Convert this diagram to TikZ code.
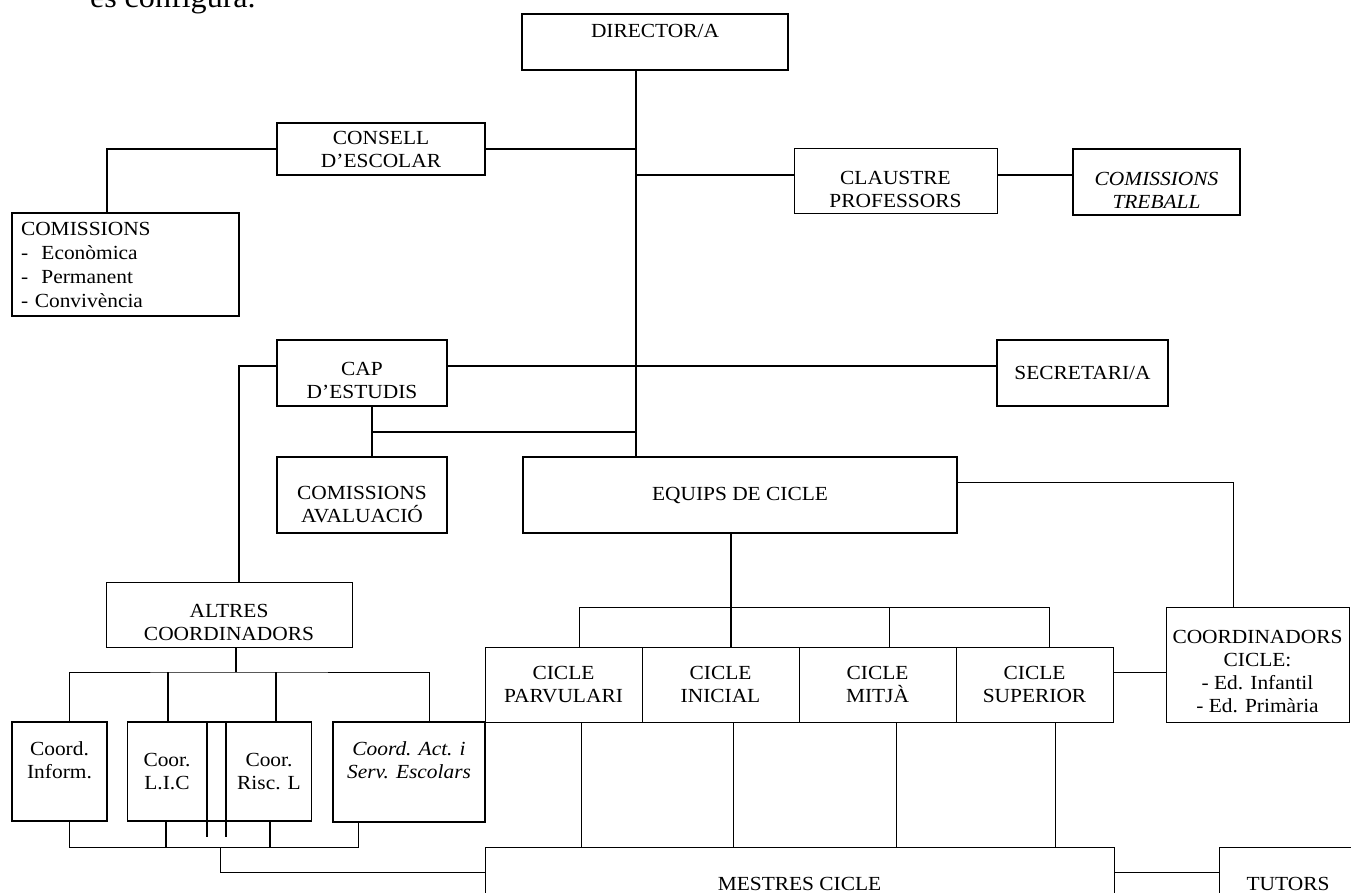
\documentclass[tikz,border=0pt]{standalone}
\usepackage{fontspec}
\setmainfont[FakeStretch=1.07]{Liberation Serif}
\usepackage{tikz}
\usetikzlibrary{positioning, calc}

\begin{document}
\begin{tikzpicture}[x=1pt, y=-1pt, every node/.style={font=\fontsize{20}{23}\selectfont, inner sep=2pt, outer sep=0pt}, box/.style={draw, line width=2pt, align=center}, thinbox/.style={draw, line width=1pt, align=center}, emptynode/.style={draw=none, fill=none, align=center}, link/.style={line width=2pt}, thinlink/.style={line width=1pt}]

    \useasboundingbox (0,0) rectangle (1351,893);

    %Nodes
    \node[emptynode, anchor=base west, font=\fontsize{30}{34}\selectfont](intro) at (88,8) {es configura.};
    \node[box, minimum width=266, minimum height=56](director) at (655,42) {DIRECTOR/A\\\mbox{}};
    \node[box, minimum width=208, minimum height=52](consell) at (381,149) {CONSELL\\D’ESCOLAR};
    \node[box, minimum height=99, text width=209, inner sep=9pt, align=left, font=\fontsize{20}{24}\selectfont](comiss) at (125.5,264.5) {COMISSIONS\\-\ \ Econòmica\\-\ \ Permanent\\- Convivència};
    \node[thinbox, minimum width=203, minimum height=65, label={[emptynode, yshift=-7.5pt]center:CLAUSTRE\\PROFESSORS}](claustre) at (895.5,181.5) {};
    \node[box, minimum width=167, minimum height=66, label={[emptynode, font=\fontsize{20}{23}\selectfont\itshape, yshift=-8pt]center:COMISSIONS\\TREBALL}](treball) at (1156.5,182) {};
    \node[box, minimum width=170, minimum height=66, label={[emptynode, yshift=-7pt]center:CAP\\D’ESTUDIS}](cap) at (362,373) {};
    \node[box, minimum width=171, minimum height=66](secretari) at (1082.5,373) {SECRETARI/A};
    \node[box, minimum width=170, minimum height=76, label={[emptynode, yshift=-10pt]center:COMISSIONS\\AVALUACIÓ}](avaluacio) at (362,495) {};
    \node[box, minimum width=434, minimum height=76](equips) at (740,495) {EQUIPS DE CICLE};
    \node[thinbox, minimum width=246, minimum height=65, label={[emptynode, yshift=-8pt]center:ALTRES\\COORDINADORS}](altres) at (229,614.5) {};
    \node[thinbox, line width=1.5pt, minimum width=95, minimum height=99](inform) at (59.5,771.5) {Coord.\\Inform.\\\mbox{}};
    \node[thinbox, line width=1.5pt, minimum width=184, minimum height=99](licrisc) at (219.5,771.5) {};
    \node[emptynode](lic) at (167,772) {Coor.\\L.I.C};
    \node[emptynode](risc) at (269,772) {Coor.\\Risc. L};
    \node[box, minimum width=152, minimum height=100, font=\fontsize{20}{23}\selectfont\itshape](act) at (409,772) {Coord. Act. i\\Serv. Escolars\\\mbox{}};
    \node[thinbox, minimum width=157, minimum height=75](parv) at (563.5,684.5) {CICLE\\PARVULARI};
    \node[thinbox, minimum width=157, minimum height=75](inic)[right=0pt of parv] {CICLE\\INICIAL};
    \node[thinbox, minimum width=157, minimum height=75](mitja)[right=0pt of inic] {CICLE\\MITJÀ};
    \node[thinbox, minimum width=157, minimum height=75](sup)[right=0pt of mitja] {CICLE\\SUPERIOR};
    \node[thinbox, minimum width=183, minimum height=115, label={[emptynode, yshift=-7pt]center:COORDINADORS\\CICLE:\\- Ed. Infantil\\- Ed. Primària}](coordcicle) at (1257.5,664.5) {};
    \node[thinbox, minimum width=629, minimum height=74](mestres) at (799.5,884) {MESTRES CICLE};
    \node[thinbox, minimum width=138, minimum height=74](tutors)[right=105pt of mestres] {TUTORS};
    \coordinate (trunk) at (636,0);
    \coordinate (capjoin) at ($(cap.south)!0.5!(avaluacio.north)$);
    \coordinate[below=25pt of altres.south] (altresbus);

    %Lines
    \draw[link] (trunk |- director.south) -- (trunk |- equips.north);
    \draw[link] (trunk |- director.south) |- ([yshift=6.5pt]claustre.west);
    \draw[link] ([yshift=6.5pt]claustre.east) -- ([yshift=7pt]treball.west);
    \draw[link] (consell.east) -- (trunk |- consell.east);
    \draw[link] (consell.west) -| ([xshift=-18.5pt]comiss.north);
    \draw[link] ([yshift=7pt]cap.east) -- ([yshift=7pt]secretari.west);
    \draw[link] ([yshift=7pt]cap.west) -| ([xshift=10pt]altres.north);
    \draw[link] ([xshift=10pt]cap.south) -- ([xshift=10pt]avaluacio.north);
    \draw[link] ([xshift=10pt]cap.south |- capjoin) -- (trunk |- capjoin);
    \draw[link] ([xshift=-9pt]equips.south) -- ([xshift=-9pt]equips.south |- inic.north);
    \draw[thinlink] ([xshift=16pt]parv.north) -- ([xshift=16pt]parv.north |- coordcicle.north) -- ([xshift=14.5pt]sup.north |- coordcicle.north) -- ([xshift=14.5pt]sup.north);
    \draw[thinlink] ([xshift=11.5pt]mitja.north) -- ([xshift=11.5pt]mitja.north |- coordcicle.north);
    \draw[thinlink] ([yshift=13pt]equips.east) -| ([xshift=-24.5pt]coordcicle.north);
    \draw[thinlink] ([yshift=12.5pt]sup.east) -- ([yshift=12.5pt]sup.east -| coordcicle.west);
    \draw[thinlink] ([xshift=18pt]parv.south) -- ([xshift=18pt]parv.south |- mestres.north);
    \draw[thinlink] ([xshift=12.5pt]inic.south) -- ([xshift=12.5pt]inic.south |- mestres.north);
    \draw[thinlink] ([xshift=18.5pt]mitja.south) -- ([xshift=18.5pt]mitja.south |- mestres.north);
    \draw[thinlink] ([xshift=20.5pt]sup.south) -- ([xshift=20.5pt]sup.south |- mestres.north);
    \draw[thinlink] ([yshift=12pt]mestres.east) -- ([yshift=12pt]tutors.west);
    \draw[link] ([xshift=7pt]altres.south) -- ([xshift=7pt]altresbus);
    \draw[thinlink] ([xshift=9.5pt]inform.north) |- (altresbus) -| ([xshift=20pt]act.north);
    \draw[link] ([xshift=-51.5pt]licrisc.north) -- ([xshift=-51.5pt]licrisc.north |- altresbus);
    \draw[link] ([xshift=56.5pt]licrisc.north) -- ([xshift=56.5pt]licrisc.north |- altresbus);
    \draw[thinlink] ([xshift=9.5pt]inform.south) -- ([xshift=9.5pt]inform.south |- mestres.north) -- ([xshift=-51pt]act.south |- mestres.north) -- ([xshift=-51pt]act.south);
    \draw[link] ([xshift=-53.5pt]licrisc.south) -- ([xshift=-53.5pt]licrisc.south |- mestres.north);
    \draw[link] ([xshift=50.5pt]licrisc.south) -- ([xshift=50.5pt]licrisc.south |- mestres.north);
    \draw[thinlink] ([xshift=0.5pt]licrisc.south |- mestres.north) |- ([yshift=12pt]mestres.west);
    \draw[line width=1.5pt] ([xshift=-12.5pt,yshift=1pt]licrisc.north) -- ([xshift=-12.5pt,yshift=-16pt]licrisc.south);
    \draw[line width=1.5pt] ([xshift=6.5pt,yshift=1pt]licrisc.north) -- ([xshift=6.5pt,yshift=-16pt]licrisc.south);

\end{tikzpicture}
\end{document}
